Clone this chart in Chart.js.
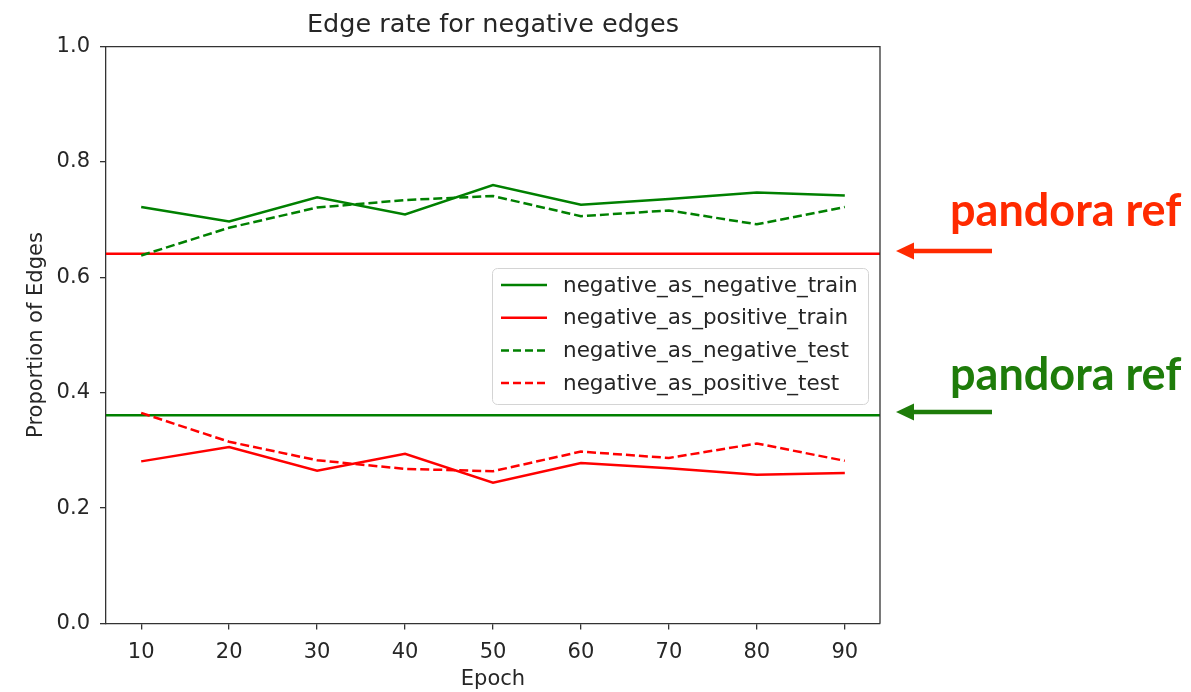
<!DOCTYPE html>
<html>
<head>
<meta charset="utf-8">
<script src="https://cdn.jsdelivr.net/npm/chart.js@4.4.1/dist/chart.umd.min.js"></script>
<style>
    html, body { margin: 0; padding: 0; background: #ffffff; }
    #wrap { width: 1191px; height: 692px; position: relative; }
</style>
</head>
<body>
<div id="wrap"><canvas id="edgeChart"></canvas></div>
<script>
// epochs on the x axis
const epochs = [10, 20, 30, 40, 50, 60, 70, 80, 90];

// proportions per epoch
const negAsNegTrain = [0.722, 0.697, 0.739, 0.709, 0.760, 0.726, 0.736, 0.747, 0.742];
const negAsPosTrain = [0.281, 0.306, 0.265, 0.294, 0.244, 0.278, 0.269, 0.258, 0.261];
const negAsNegTest  = [0.638, 0.686, 0.721, 0.734, 0.741, 0.706, 0.716, 0.692, 0.722];
const negAsPosTest  = [0.365, 0.315, 0.283, 0.268, 0.264, 0.298, 0.287, 0.312, 0.282];

// pandora reference levels
const pandoraRefRed = 0.641;
const pandoraRefGreen = 0.361;

const yTicks = [0.0, 0.2, 0.4, 0.6, 0.8, 1.0];

const GREEN = "#008000";
const RED = "#ff0000";
const AXIS = "#333333";
const TXT = "#262626";
const DASH = [9, 4];
const FONT = "DejaVu Sans";

const toPoints = (vals) => vals.map((v, i) => ({ x: epochs[i], y: v }));

const series = [
    { label: "negative_as_negative_train", data: negAsNegTrain, color: GREEN, dash: [] },
    { label: "negative_as_positive_train", data: negAsPosTrain, color: RED, dash: [] },
    { label: "negative_as_negative_test", data: negAsNegTest, color: GREEN, dash: DASH },
    { label: "negative_as_positive_test", data: negAsPosTest, color: RED, dash: DASH },
];

// axhline-style reference lines, frame, legend box and side notes
const extras = {
    id: "extras",
    beforeDatasetsDraw(chart) {
        const ctx = chart.ctx;
        const a = chart.chartArea;
        const y = chart.scales.y;
        ctx.save();
        ctx.lineWidth = 2.5;
        [[pandoraRefRed, RED], [pandoraRefGreen, GREEN]].forEach(([v, c]) => {
            const py = y.getPixelForValue(v);
            ctx.strokeStyle = c;
            ctx.beginPath();
            ctx.moveTo(a.left, py);
            ctx.lineTo(a.right, py);
            ctx.stroke();
        });
        ctx.restore();
    },
    afterDraw(chart) {
        const ctx = chart.ctx;
        const a = chart.chartArea;
        const y = chart.scales.y;
        ctx.save();

        // top and right spines
        ctx.strokeStyle = AXIS;
        ctx.lineWidth = 1.3;
        ctx.beginPath();
        ctx.moveTo(a.left, a.top);
        ctx.lineTo(a.right, a.top);
        ctx.lineTo(a.right, a.bottom);
        ctx.stroke();

        // legend
        const bx = 492, by = 268, bw = 376, bh = 136, r = 5;
        ctx.fillStyle = "rgba(255,255,255,0.8)";
        ctx.strokeStyle = "#d4d4d4";
        ctx.lineWidth = 1;
        ctx.beginPath();
        ctx.roundRect(bx + 0.5, by + 0.5, bw, bh, r);
        ctx.fill();
        ctx.stroke();
        ctx.font = "21.5px '" + FONT + "'";
        ctx.textBaseline = "middle";
        ctx.textAlign = "left";
        series.forEach((s, i) => {
            const ry = by + 17 + i * 32.7;
            ctx.strokeStyle = s.color;
            ctx.lineWidth = 2.5;
            ctx.setLineDash(s.dash.length ? [8, 4] : []);
            ctx.beginPath();
            ctx.moveTo(bx + 9, ry);
            ctx.lineTo(bx + 55, ry);
            ctx.stroke();
            ctx.setLineDash([]);
            ctx.fillStyle = TXT;
            ctx.fillText(s.label, bx + 71, ry + 1);
        });

        // notes to the right of the plot
        const notes = [[pandoraRefRed, "#ff2a00", -25], [pandoraRefGreen, "#1e7c0a", -22]];
        notes.forEach(([v, c, dy]) => {
            const py = Math.round(y.getPixelForValue(v)) - 3;
            ctx.fillStyle = c;
            ctx.strokeStyle = c;
            ctx.lineWidth = 4.5;
            ctx.beginPath();
            ctx.moveTo(992, py);
            ctx.lineTo(910, py);
            ctx.stroke();
            ctx.beginPath();
            ctx.moveTo(896, py);
            ctx.lineTo(914, py - 8.5);
            ctx.lineTo(914, py + 8.5);
            ctx.closePath();
            ctx.fill();
            ctx.font = "bold 45px Lato";
            ctx.textBaseline = "alphabetic";
            ctx.textAlign = "left";
            ctx.fillText("pandora ref", 950, py + dy);
        });
        ctx.restore();
    },
};

new Chart(document.getElementById("edgeChart"), {
    type: "line",
    data: {
        datasets: series.map((s) => ({
            label: s.label,
            data: toPoints(s.data),
            borderColor: s.color,
            backgroundColor: s.color,
            borderDash: s.dash,
            borderWidth: 2.5,
            pointRadius: 0,
            tension: 0,
            fill: false,
        })),
    },
    options: {
        responsive: true,
        maintainAspectRatio: false,
        animation: false,
        layout: { padding: { left: 0, right: 311, top: 0, bottom: 0 } },
        scales: {
            x: {
                type: "linear",
                min: 6,
                max: 94,
                afterBuildTicks: (scale) => { scale.ticks = epochs.map((v) => ({ value: v })); },
                afterFit: (scale) => { scale.height = 68.5; },
                ticks: {
                    color: TXT,
                    font: { family: FONT, size: 21 },
                    padding: 10,
                    maxRotation: 0,
                },
                grid: { drawOnChartArea: false, drawTicks: true, tickLength: 6, color: AXIS, lineWidth: 1.3 },
                border: { display: true, color: AXIS, width: 1.3 },
                title: {
                    display: true,
                    text: "Epoch",
                    color: TXT,
                    font: { family: FONT, size: 21 },
                    padding: { top: 0, bottom: 0 },
                },
            },
            y: {
                min: 0,
                max: 1,
                afterBuildTicks: (scale) => { scale.ticks = yTicks.map((v) => ({ value: v })); },
                afterFit: (scale) => { scale.width = 106; },
                ticks: {
                    color: TXT,
                    font: { family: FONT, size: 21 },
                    padding: 10,
                    callback: (v) => Number(v).toFixed(1),
                },
                grid: { drawOnChartArea: false, drawTicks: true, tickLength: 6, color: AXIS, lineWidth: 1.3 },
                border: { display: true, color: AXIS, width: 1.3 },
                title: {
                    display: true,
                    text: "Proportion of Edges",
                    color: TXT,
                    font: { family: FONT, size: 21 },
                    padding: { top: 24, bottom: 0 },
                },
            },
        },
        plugins: {
            legend: { display: false },
            tooltip: { enabled: false },
            title: {
                display: true,
                fullSize: false,
                text: "Edge rate for negative edges",
                color: TXT,
                font: { family: FONT, size: 25.5, weight: "normal" },
                padding: { top: 10, bottom: 6 },
            },
        },
    },
    plugins: [extras],
});
</script>
</body>
</html>
